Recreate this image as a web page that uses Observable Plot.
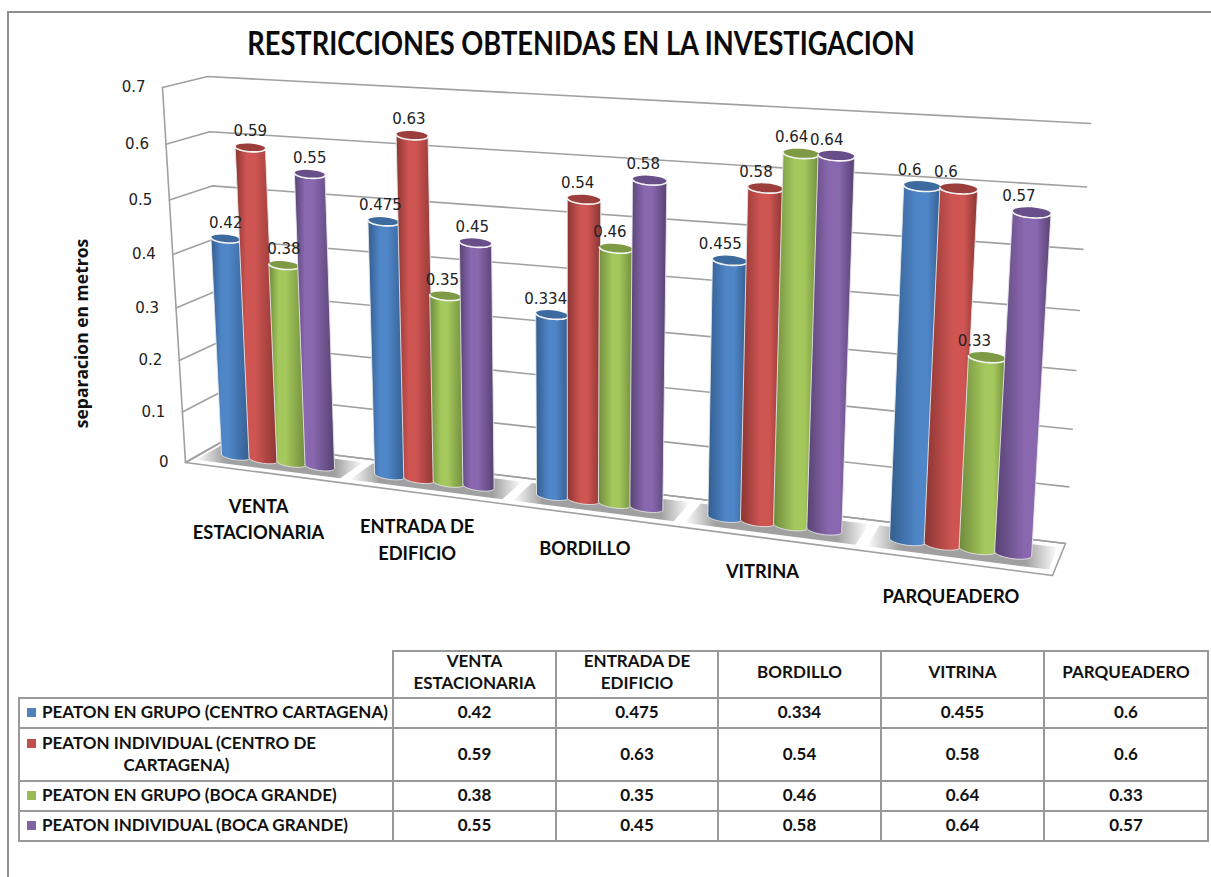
<!DOCTYPE html>
<html>
<head>
<meta charset="utf-8">
<script src="https://cdn.jsdelivr.net/npm/d3@7"></script>
<script src="https://cdn.jsdelivr.net/npm/@observablehq/plot@0.6"></script>
<style>
  html, body { margin: 0; padding: 0; background: #fff; }
  #page { position: relative; width: 1211px; height: 877px; overflow: hidden; background: #fff; }
  #frame { position: absolute; left: 7px; top: 11px; width: 1300px; height: 1000px; border: 2px solid #8f8f8f; box-sizing: border-box; }
  #title { position: absolute; left: 181px; top: 24px; width: 800px; text-align: center; font: 700 31.5px Lato, sans-serif; color: #0b0b0b; white-space: nowrap; transform: scaleX(0.865); transform-origin: center; }
  #chart { position: absolute; left: 0; top: 0; }
  table { position: absolute; left: 18px; top: 650px; border-collapse: collapse; table-layout: fixed; width: 1189px; font: 700 17px/22.5px Lato, sans-serif; color: #111; }
  td, th { border: 2px solid #999; text-align: center; padding: 0; font-weight: 700; }
  th > div { position: relative; top: -2.5px; }
  td > div { position: relative; top: -0.5px; }
  th.blank { border: none; border-bottom: 2px solid #999; }
  td.name { text-align: left; padding-left: 7px; white-space: nowrap; }
  td.name .second { display: block; text-align: center; padding-right: 66px; }
  .sw { display: inline-block; width: 9px; height: 9px; margin-right: 6px; vertical-align: 1px; }
</style>
</head>
<body>
<div id="page">
  <div id="frame"></div>
  <div id="chart"></div>
  <div id="title">RESTRICCIONES OBTENIDAS EN LA INVESTIGACION</div>
</div>
<script>
const categories = ["VENTA\nESTACIONARIA", "ENTRADA DE\nEDIFICIO", "BORDILLO", "VITRINA", "PARQUEADERO"];
const seriesNames = ["PEATON EN GRUPO (CENTRO CARTAGENA)", "PEATON INDIVIDUAL (CENTRO DE\nCARTAGENA)", "PEATON EN GRUPO (BOCA GRANDE)", "PEATON INDIVIDUAL (BOCA GRANDE)"];
const grupoCentro = [0.42, 0.475, 0.334, 0.455, 0.6];
const individualCentro = [0.59, 0.63, 0.54, 0.58, 0.6];
const grupoBoca = [0.38, 0.35, 0.46, 0.64, 0.33];
const individualBoca = [0.55, 0.45, 0.58, 0.64, 0.57];
const yTicks = [0, 0.1, 0.2, 0.3, 0.4, 0.5, 0.6, 0.7];
const seriesValues = [grupoCentro, individualCentro, grupoBoca, individualBoca];
const swatches = ["#4f81bd", "#c0504d", "#9bbb59", "#8064a2"];
const shades = [
  {edge: "#335d8e", mid: "#4f86c8", top: "#3e6b9f"},
  {edge: "#8a3533", mid: "#cf5552", top: "#9c3f3c"},
  {edge: "#6f8a3c", mid: "#a4c85c", top: "#7f9a45"},
  {edge: "#564272", mid: "#8a68b0", top: "#684f8a"}
];

// The view of the 3D box: where its eight corners land on the picture.
const W = 1211, H = 640, yMax = 0.7;
const corners = {
  f0l: [185, 462], f0r: [1052, 575], b0l: [222, 441], b0r: [1065, 543],
  f1l: [162, 87],  f1r: [1078, 140], b1l: [207, 76],  b1r: [1090, 123]
};
const persp = (t, w) => t / (t + w * (1 - t));
const mix = (a, b, t) => [a[0] + (b[0] - a[0]) * t, a[1] + (b[1] - a[1]) * t];
function project(u, d, v) {
  const up = persp(u, 1.155), vp = persp(v / yMax, 1.07);
  const low = mix(mix(corners.f0l, corners.f0r, up), mix(corners.b0l, corners.b0r, up), d);
  const high = mix(mix(corners.f1l, corners.f1r, up), mix(corners.b1l, corners.b1r, up), d);
  return mix(low, high, vp);
}
const nG = categories.length, barU = 0.184 / nG;
const groupU = g => (g + 0.5) / nG;
const barCenterU = (g, s) => groupU(g) - 0.002 + (s - 1.5) * barU;

function ellipseArc(u, v, from, to) {
  const c = project(u, 0.5, v), l = project(u - barU / 2, 0.5, v), r = project(u + barU / 2, 0.5, v);
  const rx = (r[0] - l[0]) / 2 + 0.6, slope = (r[1] - l[1]) / (r[0] - l[0]), ry = rx * 0.27;
  return d3.range(0, 25).map(i => {
    const t = from + (to - from) * i / 24;
    return [c[0] + rx * Math.cos(t), c[1] + ry * Math.sin(t) + slope * rx * Math.cos(t)];
  });
}
const P = (pts, o) => Plot.line(pts, {x: d => d[0], y: d => d[1], ...o});

const marks = [];

// gradients
marks.push(() => {
  const defs = d3.create("svg:defs");
  seriesValues.forEach((_, s) => categories.forEach((_, g) => {
    const hi = 0.36 + 0.07 * g;
    const lg = defs.append("linearGradient").attr("id", `bar-${s}-${g}`).attr("x1", 0).attr("x2", 1).attr("y1", 0).attr("y2", 0);
    [[0, shades[s].edge], [hi - 0.1, shades[s].mid], [hi + 0.1, shades[s].mid], [1, shades[s].edge]].forEach(([o, c]) =>
      lg.append("stop").attr("offset", o).attr("stop-color", c));
  }));
  const sh = defs.append("linearGradient").attr("id", "shadow").attr("x1", 0).attr("x2", 1).attr("y1", 0).attr("y2", 0);
  [[0, 0], [0.17, 1], [0.83, 1], [1, 0]].forEach(([o, a]) =>
    sh.append("stop").attr("offset", o).attr("stop-color", "#a0a0a0").attr("stop-opacity", a));
  return defs.node();
});

// floor
const floorPts = [project(0, 0, 0), project(1, 0, 0), project(1, 1, 0), project(0, 1, 0), project(0, 0, 0)];
marks.push(P(floorPts, {stroke: "#a0a0a0", strokeWidth: 1.6, fill: "white"}));

// walls: grid lines
yTicks.forEach(v => {
  marks.push(P([project(0, 0, v), project(0, 1, v), project(1, 1, v)], {stroke: "#a0a0a0", strokeWidth: 1.6}));
});
marks.push(P([project(0, 0, 0), project(0, 0, yMax)], {stroke: "#a0a0a0", strokeWidth: 1.6}));

// floor shadows
categories.forEach((_, g) => {
  const a = groupU(g) - 0.094, b = groupU(g) + 0.094;
  const pts = [project(a, 0.16, 0), project(b, 0.16, 0), project(b, 0.86, 0), project(a, 0.86, 0), project(a, 0.16, 0)];
  marks.push(P(pts, {fill: "url(#shadow)", stroke: "none"}));
});

// cylinders
categories.forEach((_, g) => seriesValues.forEach((vals, s) => {
  const u = barCenterU(g, s), v = vals[g];
  const body = [
    ...ellipseArc(u, 0, Math.PI, 0),
    ...ellipseArc(u, v, 0, Math.PI)
  ];
  body.push(body[0]);
  marks.push(P(body, {fill: `url(#bar-${s}-${g})`, stroke: "#e6e6e6", strokeWidth: 0.9}));
  const cap = ellipseArc(u, v, 0, 2 * Math.PI);
  marks.push(P(cap, {fill: shades[s].top, stroke: "none"}));
  marks.push(P(ellipseArc(u, v, 0, Math.PI), {stroke: "#f4f4f4", strokeWidth: 1.6}));
}));

// value labels
const labelRows = [];
categories.forEach((_, g) => seriesValues.forEach((vals, s) => {
  const [x, y] = project(barCenterU(g, s), 0.5, vals[g]);
  labelRows.push({x: x - 3.2 * g, y: y - 16, text: String(vals[g])});
}));
marks.push(Plot.text(labelRows, {x: "x", y: "y", text: "text", fontFamily: "DejaVu Sans", fontSize: 15, fill: "#222"}));

// y tick labels
marks.push(Plot.text(yTicks.map(v => {
  const [x, y] = project(0, 0, v);
  return {x: x - 17, y, text: String(v)};
}), {x: "x", y: "y", text: "text", textAnchor: "end", fontFamily: "DejaVu Sans", fontSize: 15, fill: "#222"}));

// category labels
marks.push(Plot.text(categories.map((c, g) => {
  const [x, y] = project(groupU(g), 0, 0);
  return {x: x - 3, y: y + 21.5, text: c};
}), {x: "x", y: "y", text: "text", lineAnchor: "top", lineHeight: 1.44, fontFamily: "Lato", fontWeight: 700, fontSize: 18.3, fill: "#0b0b0b"}));

// axis title
marks.push(Plot.text(["separacion en metros"], {
  x: () => 82, y: () => 333, text: d => d, rotate: -90, fontFamily: "Open Sans", fontWeight: 700, fontSize: 17.5, fill: "#111"
}));

const plot = Plot.plot({
  width: W, height: H, margin: 0,
  x: {domain: [0, W], range: [0, W], axis: null},
  y: {domain: [0, H], range: [0, H], axis: null},
  style: {background: "transparent"},
  marks
});
document.getElementById("chart").appendChild(plot);

// data table
const table = d3.select("#page").append("table");
const widths = [374, 163, 162, 163, 163, 164];
const cg = table.append("colgroup");
widths.forEach(w => cg.append("col").style("width", w + "px"));
const hr = table.append("tr").style("height", "47px");
hr.append("th").attr("class", "blank");
categories.forEach(c => hr.append("th").append("div").html(c.replace("\n", "<br>")));
const rowH = [30, 53, 30, 30];
seriesNames.forEach((n, s) => {
  const tr = table.append("tr").style("height", rowH[s] + "px");
  const td = tr.append("td").attr("class", "name").append("div");
  td.append("span").attr("class", "sw").style("background", swatches[s]);
  const [a, b] = n.split("\n");
  td.append("span").text(a);
  if (b) td.append("span").attr("class", "second").text(b);
  seriesValues[s].forEach(v => tr.append("td").append("div").text(String(v)));
});
</script>
</body>
</html>
